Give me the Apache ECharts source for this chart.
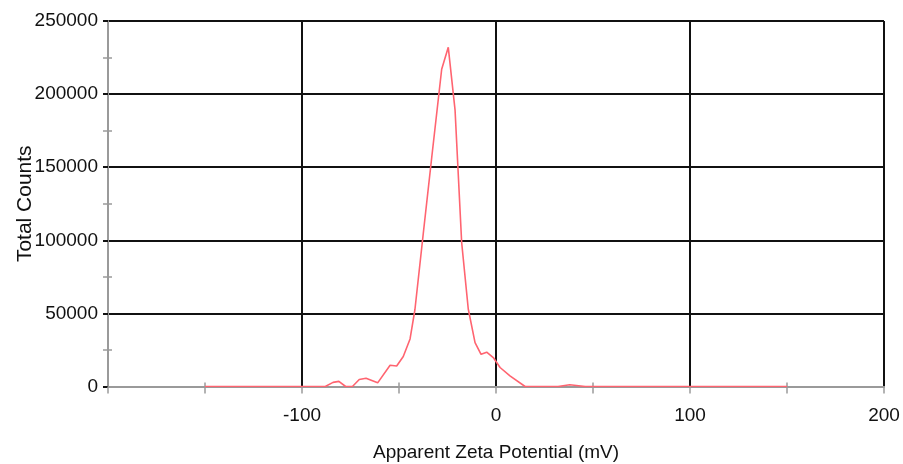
<!DOCTYPE html>
<html>
<head>
<meta charset="utf-8">
<script src="https://cdn.jsdelivr.net/npm/echarts@6/dist/echarts.min.js"></script>
<style>
  html, body { margin: 0; padding: 0; background: #fff; }
  #chart { width: 903px; height: 464px; }
</style>
</head>
<body>
<div id="chart"></div>
<script>
// Zeta potential distribution (mV) and total counts
var zeta = [-150, -100, -88, -84, -81, -77.5, -74, -70.5, -67, -61, -54.6, -51.2, -47.8, -44.3, -41.8,
            -37.5, -33.1, -28, -24.6, -21.1, -17.7, -14.3, -10.8, -7.7, -4.8, -1.4, 2.1, 7.2, 15, 32, 38, 46, 150];
var counts = [0, 0, 0, 2800, 3500, 0, 0, 4800, 5600, 2500, 14500, 14000, 20500, 32500, 52500,
              104500, 157000, 217000, 232000, 189000, 98500, 53000, 30000, 22000, 23500, 19800, 13000, 7300, 0, 0, 1200, 0, 0];

// Axis ranges and tick positions
var xRange = [-200, 200];
var xMajorStep = 100;
var xMinorTicks = [-150, -50, 50, 150];
var yRange = [0, 250000];
var yMajorStep = 50000;
var yMinorTicks = [25000, 75000, 125000, 175000, 225000];

var xTitle = 'Apparent Zeta Potential (mV)';
var yTitle = 'Total Counts';

var sans = "'Liberation Sans', Arial, sans-serif";
var grey = '#9a9a9a';
var ink = '#111';

var points = zeta.map(function (z, i) { return [z, counts[i]]; });

// helper for the unlabeled tick-only axes
function tickAxis(base, values, inside, len) {
  return Object.assign({
    type: 'value',
    axisLine: { show: false, onZero: false },
    axisLabel: { show: false },
    splitLine: { show: false },
    axisTick: { show: true, inside: inside, length: len, customValues: values, lineStyle: { color: grey, width: 1.5 } }
  }, base);
}

var chart = echarts.init(document.getElementById('chart'), null, { renderer: 'canvas' });
chart.setOption({
  animation: false,
  backgroundColor: '#fff',
  grid: { left: 108, right: 19, top: 21, bottom: 77.5, containLabel: false, outerBoundsMode: 'none' },
  xAxis: [{
    type: 'value',
    min: xRange[0], max: xRange[1], interval: xMajorStep,
    position: 'bottom',
    name: xTitle,
    nameLocation: 'middle',
    nameGap: 57,
    nameMoveOverlap: false,
    nameTextStyle: { fontFamily: sans, fontSize: 19, color: ink },
    axisLine: { show: true, onZero: false, lineStyle: { color: grey, width: 2 } },
    axisTick: { show: true, length: 7, lineStyle: { color: grey, width: 1.5 } },
    axisLabel: { margin: 20, fontFamily: sans, fontSize: 19, color: ink,
      formatter: function (v) { return v === xRange[0] ? '' : String(v); } },
    splitLine: { show: true, showMinLine: false, lineStyle: { color: ink, width: 2 } }
  },
    tickAxis({ min: xRange[0], max: xRange[1], interval: 50, position: 'bottom' }, xMinorTicks, false, 7),
    tickAxis({ min: xRange[0], max: xRange[1], interval: 50, position: 'bottom' }, xMinorTicks, true, 4)
  ],
  yAxis: [{
    type: 'value',
    min: yRange[0], max: yRange[1], interval: yMajorStep,
    position: 'left',
    name: yTitle,
    nameLocation: 'middle',
    nameGap: 72,
    nameRotate: 90,
    nameMoveOverlap: false,
    nameTextStyle: { fontFamily: sans, fontSize: 21, color: ink },
    axisLine: { show: true, onZero: false, lineStyle: { color: grey, width: 2 } },
    axisTick: { show: true, length: 5, lineStyle: { color: ink, width: 2 } },
    axisLabel: { margin: 10, fontFamily: sans, fontSize: 19, color: ink,
      formatter: function (v) { return String(v); } },
    splitLine: { show: true, showMinLine: false, lineStyle: { color: ink, width: 2 } }
  },
    tickAxis({ min: yRange[0], max: yRange[1], interval: 25000, position: 'left' }, yMinorTicks, false, 5),
    tickAxis({ min: yRange[0], max: yRange[1], interval: 25000, position: 'left' }, yMinorTicks, true, 4)
  ],
  series: [{
    type: 'line',
    xAxisIndex: 0,
    yAxisIndex: 0,
    data: points,
    showSymbol: false,
    symbol: 'none',
    lineStyle: { color: '#ff6470', width: 1.6 },
    z: 5
  }]
});
</script>
</body>
</html>
